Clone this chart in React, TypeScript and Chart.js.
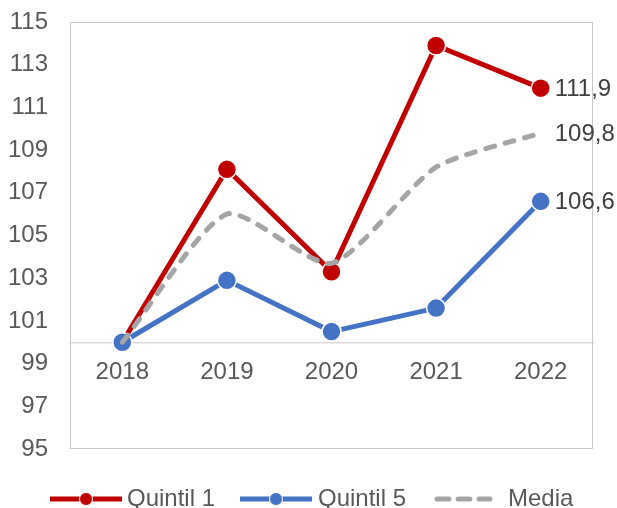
import React, { useEffect, useRef } from 'react';
import { Chart, registerables } from 'chart.js';

Chart.register(...registerables);

const categories = ['2018', '2019', '2020', '2021', '2022'];
const quintil1 = [100, 108.1, 103.3, 113.9, 111.9];
const quintil5 = [100, 102.9, 100.5, 101.6, 106.6];
const media = [100, 106.0, 103.7, 108.2, 109.8];
const seriesNames = ['Quintil 1', 'Quintil 5', 'Media'];
const endLabels = ['111,9', '106,6', '109,8'];
const yMin = 95;
const yMax = 115;
const yStep = 2;

const RED = '#C00000';
const BLUE = '#4472C4';
const GRAY = '#A5A5A5';
const FONT = '"Liberation Sans", Arial, sans-serif';
const FONT_SIZE = 24;

const decorPlugin = {
  id: 'decor',
  beforeDatasetsDraw(chart: any) {
    const { ctx, chartArea } = chart;
    ctx.save();
    ctx.strokeStyle = '#C9C9C9';
    ctx.lineWidth = 1;
    ctx.strokeRect(
      Math.round(chartArea.left) + 0.5,
      Math.round(chartArea.top) + 0.5,
      Math.round(chartArea.right - chartArea.left) - 1,
      Math.round(chartArea.bottom - chartArea.top) - 1
    );
    ctx.restore();
  },
  afterDraw(chart: any) {
    const { ctx } = chart;
    ctx.save();
    ctx.font = `${FONT_SIZE}px ${FONT}`;
    ctx.textBaseline = 'middle';
    ctx.textAlign = 'left';
    // end labels
    [0, 1, 2].forEach((di) => {
      const meta = chart.getDatasetMeta(di);
      const pt = meta.data[meta.data.length - 1];
      if (!pt) return;
      ctx.fillStyle = '#404040';
      ctx.fillText(endLabels[di], pt.x + 14, pt.y + 1);
    });
    // legend
    const ly = 499;
    const items = [
      { color: RED, x0: 50, x1: 122, marker: true, dash: [] as number[], tx: 127, name: seriesNames[0] },
      { color: BLUE, x0: 240, x1: 312, marker: true, dash: [] as number[], tx: 318, name: seriesNames[1] },
      { color: GRAY, x0: 437, x1: 490, marker: false, dash: [12, 9], tx: 508, name: seriesNames[2] },
    ];
    items.forEach((it) => {
      ctx.strokeStyle = it.color;
      ctx.lineWidth = 5;
      ctx.lineCap = it.marker ? 'butt' : 'round';
      ctx.setLineDash(it.dash);
      ctx.beginPath();
      ctx.moveTo(it.x0, ly);
      ctx.lineTo(it.x1, ly);
      ctx.stroke();
      ctx.setLineDash([]);
      if (it.marker) {
        ctx.beginPath();
        ctx.arc((it.x0 + it.x1) / 2, ly, 6.5, 0, Math.PI * 2);
        ctx.fillStyle = it.color;
        ctx.fill();
        ctx.strokeStyle = '#fff';
        ctx.lineWidth = 1;
        ctx.stroke();
      }
      ctx.fillStyle = '#595959';
      ctx.fillText(it.name, it.tx, ly);
    });
    ctx.restore();
  },
};

export default function App() {
  const canvasRef = useRef<HTMLCanvasElement>(null);

  useEffect(() => {
    document.body.style.margin = '0';
    const canvas = canvasRef.current;
    if (!canvas) return;
    const chart = new Chart(canvas, {
      type: 'line',
      data: {
        labels: categories,
        datasets: [
          {
            label: seriesNames[0],
            data: quintil1,
            borderColor: RED,
            backgroundColor: RED,
            borderWidth: 5,
            pointRadius: 9.5,
            pointBackgroundColor: RED,
            pointBorderColor: '#ffffff',
            pointBorderWidth: 1.5,
            tension: 0,
            order: 2,
          },
          {
            label: seriesNames[1],
            data: quintil5,
            borderColor: BLUE,
            backgroundColor: BLUE,
            borderWidth: 5,
            pointRadius: 9.5,
            pointBackgroundColor: BLUE,
            pointBorderColor: '#ffffff',
            pointBorderWidth: 1.5,
            tension: 0,
            order: 1,
          },
          {
            label: seriesNames[2],
            data: media,
            borderColor: GRAY,
            backgroundColor: GRAY,
            borderWidth: 5,
            borderDash: [9, 11],
            borderCapStyle: 'round',
            pointRadius: 0,
            tension: 0.22,
            order: 0,
          },
        ],
      },
      options: {
        animation: false,
        responsive: true,
        maintainAspectRatio: false,
        layout: { padding: { left: 0, top: 22, right: 24, bottom: 59 } },
        plugins: {
          legend: { display: false },
          tooltip: { enabled: false },
        },
        scales: {
          x: {
            type: 'category',
            position: { y: 100 } as any,
            offset: true,
            grid: { display: false, drawTicks: false },
            border: { display: true, color: '#D9D9D9', width: 1.5 },
            ticks: {
              color: '#595959',
              font: { family: FONT, size: FONT_SIZE },
              padding: 16,
              maxRotation: 0,
            },
          },
          y: {
            type: 'linear',
            position: 'left',
            min: yMin,
            max: yMax,
            grid: { display: false, drawTicks: false },
            border: { display: false },
            ticks: {
              stepSize: yStep,
              color: '#595959',
              font: { family: FONT, size: FONT_SIZE },
              padding: 22,
            },
            afterFit: (scale: any) => {
              scale.width = 70;
              scale.paddingTop = 0;
              scale.paddingBottom = 0;
            },
          },
        },
      },
      plugins: [decorPlugin],
    });
    return () => chart.destroy();
  }, []);

  return (
    <div style={{ position: 'relative', width: '617px', height: '508px' }}>
      <canvas ref={canvasRef} />
    </div>
  );
}
